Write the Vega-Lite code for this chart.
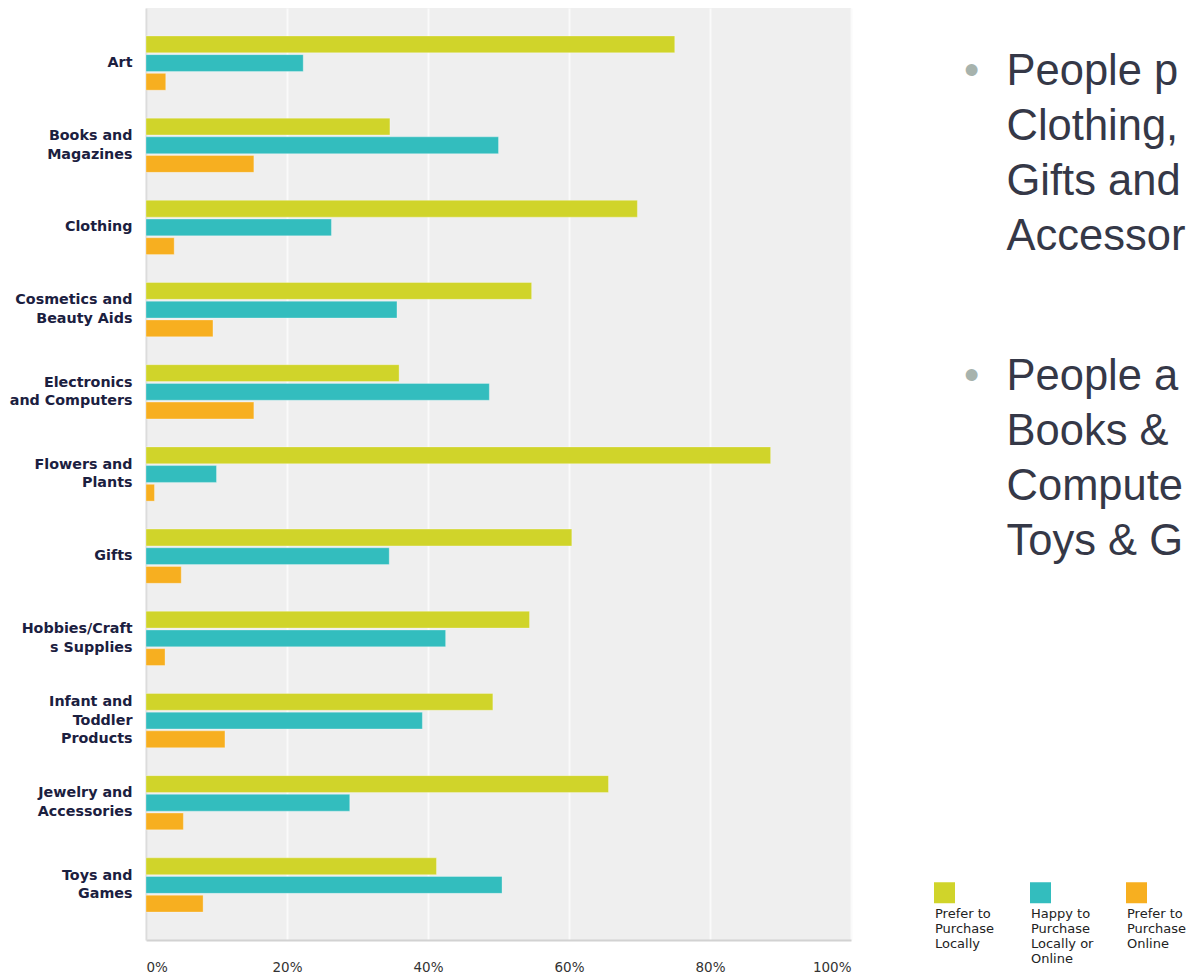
{
  "$schema": "https://vega.github.io/schema/vega-lite/v6.json",
  "width": 705,
  "height": 932,
  "padding": {"left": 5, "top": 8, "right": 0, "bottom": 0},
  "autosize": {"type": "pad"},
  "background": "#ffffff",
  "config": {
    "view": {"fill": "#efefef", "stroke": null},
    "font": "DejaVu Sans"
  },
  "datasets": {
    "bars": [
      {"category": "Art", "series": "Prefer to Purchase Locally", "share": 0.750},
      {"category": "Art", "series": "Happy to Purchase Locally or Online", "share": 0.223},
      {"category": "Art", "series": "Prefer to Purchase Online", "share": 0.028},
      {"category": "Books and Magazines", "series": "Prefer to Purchase Locally", "share": 0.346},
      {"category": "Books and Magazines", "series": "Happy to Purchase Locally or Online", "share": 0.500},
      {"category": "Books and Magazines", "series": "Prefer to Purchase Online", "share": 0.153},
      {"category": "Clothing", "series": "Prefer to Purchase Locally", "share": 0.697},
      {"category": "Clothing", "series": "Happy to Purchase Locally or Online", "share": 0.263},
      {"category": "Clothing", "series": "Prefer to Purchase Online", "share": 0.040},
      {"category": "Cosmetics and Beauty Aids", "series": "Prefer to Purchase Locally", "share": 0.547},
      {"category": "Cosmetics and Beauty Aids", "series": "Happy to Purchase Locally or Online", "share": 0.356},
      {"category": "Cosmetics and Beauty Aids", "series": "Prefer to Purchase Online", "share": 0.095},
      {"category": "Electronics and Computers", "series": "Prefer to Purchase Locally", "share": 0.359},
      {"category": "Electronics and Computers", "series": "Happy to Purchase Locally or Online", "share": 0.487},
      {"category": "Electronics and Computers", "series": "Prefer to Purchase Online", "share": 0.153},
      {"category": "Flowers and Plants", "series": "Prefer to Purchase Locally", "share": 0.886},
      {"category": "Flowers and Plants", "series": "Happy to Purchase Locally or Online", "share": 0.100},
      {"category": "Flowers and Plants", "series": "Prefer to Purchase Online", "share": 0.012},
      {"category": "Gifts", "series": "Prefer to Purchase Locally", "share": 0.604},
      {"category": "Gifts", "series": "Happy to Purchase Locally or Online", "share": 0.345},
      {"category": "Gifts", "series": "Prefer to Purchase Online", "share": 0.050},
      {"category": "Hobbies/Crafts Supplies", "series": "Prefer to Purchase Locally", "share": 0.544},
      {"category": "Hobbies/Crafts Supplies", "series": "Happy to Purchase Locally or Online", "share": 0.425},
      {"category": "Hobbies/Crafts Supplies", "series": "Prefer to Purchase Online", "share": 0.027},
      {"category": "Infant and Toddler Products", "series": "Prefer to Purchase Locally", "share": 0.492},
      {"category": "Infant and Toddler Products", "series": "Happy to Purchase Locally or Online", "share": 0.392},
      {"category": "Infant and Toddler Products", "series": "Prefer to Purchase Online", "share": 0.112},
      {"category": "Jewelry and Accessories", "series": "Prefer to Purchase Locally", "share": 0.656},
      {"category": "Jewelry and Accessories", "series": "Happy to Purchase Locally or Online", "share": 0.289},
      {"category": "Jewelry and Accessories", "series": "Prefer to Purchase Online", "share": 0.053},
      {"category": "Toys and Games", "series": "Prefer to Purchase Locally", "share": 0.412},
      {"category": "Toys and Games", "series": "Happy to Purchase Locally or Online", "share": 0.505},
      {"category": "Toys and Games", "series": "Prefer to Purchase Online", "share": 0.081}
    ],
    "notes": [
      {"note": 1, "lines": ["People p", "Clothing,", "Gifts and", "Accessor"]},
      {"note": 2, "lines": ["People a", "Books &", "Compute", "Toys & G"]}
    ]
  },
  "resolve": {"scale": {"y": "independent"}, "axis": {"y": "independent"}},
  "layer": [
    {
      "data": {"name": "bars"},
      "mark": {"type": "bar", "stroke": "#ffffff", "strokeOpacity": 0.3, "strokeWidth": 1},
      "encoding": {
        "y": {
          "field": "category",
          "type": "nominal",
          "sort": null,
          "scale": {"paddingInner": 0.34, "paddingOuter": 0.34},
          "axis": {
            "title": null,
            "ticks": false,
            "domain": true,
            "domainColor": "#dcdcdc",
            "domainWidth": 2,
            "labelPadding": 14,
            "minExtent": 141,
            "maxExtent": 141,
            "labelFont": "DejaVu Sans",
            "labelFontSize": 14.3,
            "labelFontWeight": "bold",
            "labelColor": "#1b2040",
            "labelLineHeight": 18.5,
            "labelLimit": 200,
            "labelOffset": {
              "condition": [
                {"test": "datum.value == 'Infant and Toddler Products'", "value": -18.5},
                {"test": "datum.value == 'Art' || datum.value == 'Clothing' || datum.value == 'Gifts'", "value": 0}
              ],
              "value": -9.25
            },
            "labelExpr": "datum.label == 'Books and Magazines' ? ['Books and', 'Magazines'] : datum.label == 'Cosmetics and Beauty Aids' ? ['Cosmetics and', 'Beauty Aids'] : datum.label == 'Electronics and Computers' ? ['Electronics', 'and Computers'] : datum.label == 'Flowers and Plants' ? ['Flowers and', 'Plants'] : datum.label == 'Hobbies/Crafts Supplies' ? ['Hobbies/Craft', 's Supplies'] : datum.label == 'Infant and Toddler Products' ? ['Infant and', 'Toddler', 'Products'] : datum.label == 'Jewelry and Accessories' ? ['Jewelry and', 'Accessories'] : datum.label == 'Toys and Games' ? ['Toys and', 'Games'] : datum.label"
          }
        },
        "yOffset": {
          "field": "series",
          "type": "nominal",
          "sort": ["Prefer to Purchase Locally", "Happy to Purchase Locally or Online", "Prefer to Purchase Online"],
          "scale": {"paddingInner": 0.1, "paddingOuter": 0}
        },
        "x": {
          "field": "share",
          "type": "quantitative",
          "scale": {"domain": [0, 1], "nice": false},
          "axis": {
            "title": null,
            "format": ".0%",
            "values": [0, 0.2, 0.4, 0.6, 0.8, 1],
            "ticks": false,
            "grid": true,
            "gridColor": "#fafafa",
            "gridWidth": 2,
            "domain": true,
            "domainColor": "#d2d2d2",
            "domainWidth": 2,
            "labelPadding": 20,
            "labelFlush": true,
            "labelFont": "DejaVu Sans",
            "labelFontSize": 13.5,
            "labelColor": "#333333"
          }
        },
        "color": {
          "field": "series",
          "type": "nominal",
          "scale": {
            "domain": ["Prefer to Purchase Locally", "Happy to Purchase Locally or Online", "Prefer to Purchase Online"],
            "range": ["#d0d42a", "#33bdbe", "#f7af20"]
          },
          "legend": {
            "orient": "none",
            "legendX": 788,
            "legendY": 874,
            "direction": "horizontal",
            "title": null,
            "symbolType": "square",
            "symbolSize": 441,
            "symbolStrokeWidth": 0,
            "symbolOpacity": 1,
            "labelFont": "DejaVu Sans",
            "labelFontSize": 13,
            "labelColor": "#222222",
            "labelOffset": -20,
            "labelBaseline": "top",
            "labelAlign": "left",
            "columnPadding": 32,
            "gridAlign": "all",
            "padding": 0,
            "labelExpr": "datum.label == 'Prefer to Purchase Locally' ? ['', 'Prefer to', 'Purchase', 'Locally', ''] : datum.label == 'Happy to Purchase Locally or Online' ? ['', 'Happy to', 'Purchase', 'Locally or', 'Online'] : ['', 'Prefer to', 'Purchase', 'Online', '']"
          }
        }
      }
    },
    {
      "data": {"name": "notes"},
      "mark": {"type": "text", "font": "Liberation Sans", "fontSize": 43.5, "color": "#353847", "align": "left", "baseline": "alphabetic", "lineHeight": 55},
      "encoding": {
        "x": {"datum": 1.2206, "type": "quantitative"},
        "y": {"field": "note", "type": "quantitative", "scale": {"domain": [0.7475, 3.8032], "reverse": true, "nice": false, "zero": false}, "axis": null},
        "text": {"field": "lines", "type": "nominal"}
      }
    },
    {
      "data": {"name": "notes"},
      "mark": {"type": "text", "font": "Liberation Sans", "fontSize": 43.5, "color": "#a7b3ad", "align": "center", "baseline": "alphabetic"},
      "encoding": {
        "x": {"datum": 1.171, "type": "quantitative"},
        "y": {"field": "note", "type": "quantitative", "scale": {"domain": [0.7475, 3.8032], "reverse": true, "nice": false, "zero": false}, "axis": null},
        "text": {"value": "•"}
      }
    }
  ]
}
